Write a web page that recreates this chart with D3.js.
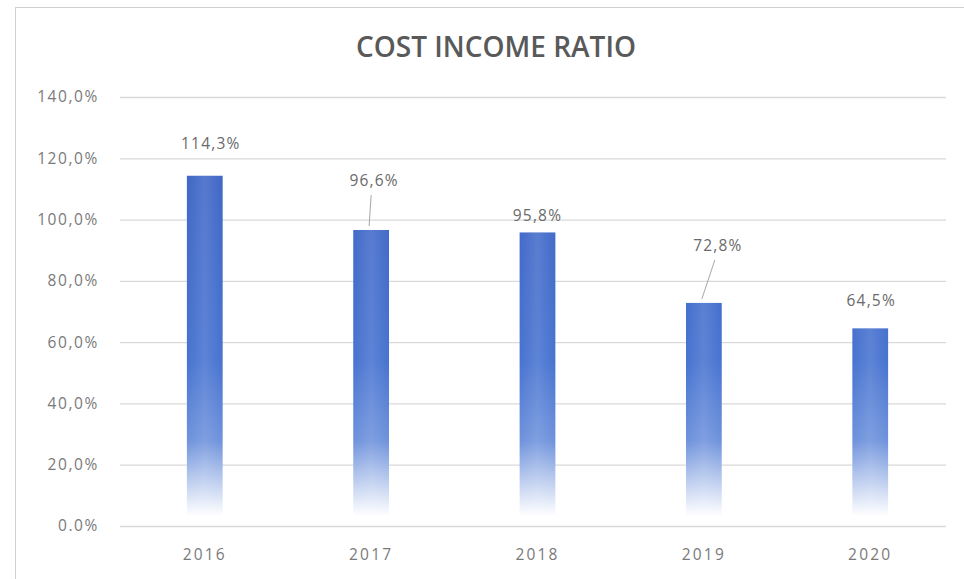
<!DOCTYPE html>
<html><head><meta charset="utf-8">
<script src="https://cdn.jsdelivr.net/npm/d3@7"></script>
<style>body{margin:0;background:#fff}svg{display:block}</style>
</head><body>
<script>
const years = ["2016","2017","2018","2019","2020"];
const ratios = [114.3, 96.6, 95.8, 72.8, 64.5];
const yTicks = [0,20,40,60,80,100,120,140];
const title = "COST INCOME RATIO";

const W=964,H=579;
const svg=d3.select("body").append("svg").attr("width",W).attr("height",H);
svg.append("rect").attr("width",W).attr("height",H).attr("fill","#fff");
svg.append("rect").attr("x",15.5).attr("y",7.5).attr("width",W).attr("height",H)
  .attr("fill","#fff").attr("stroke","#d0d0d0");

const m={left:120,right:946,top:97,bottom:526};
const x=d3.scaleBand().domain(years).range([122,953]).paddingInner(0.785).paddingOuter(0.39);
const y=d3.scaleLinear().domain([0,140]).range([m.bottom,m.top]);

const fmt=v=>v===0?"0.0%":d3.format(".1f")(v).replace(".",",")+"%";
const FONT="Open Sans, sans-serif";

const defs=svg.append("defs");
const g=defs.append("linearGradient").attr("id","bg").attr("gradientUnits","userSpaceOnUse")
  .attr("x1",0).attr("y1",y(140)).attr("x2",0).attr("y2",y(0)-10);
g.append("stop").attr("offset","0%").attr("stop-color","#3d62c2");
g.append("stop").attr("offset","63%").attr("stop-color","#4773d0");
g.append("stop").attr("offset","82%").attr("stop-color","#6e92dc");
g.append("stop").attr("offset","100%").attr("stop-color","#ffffff");
const gh=defs.append("linearGradient").attr("id","hl").attr("x1",0).attr("x2",1).attr("y1",0).attr("y2",0);
gh.append("stop").attr("offset","0%").attr("stop-color","#fff").attr("stop-opacity",0);
gh.append("stop").attr("offset","50%").attr("stop-color","#fff").attr("stop-opacity",0.12);
gh.append("stop").attr("offset","100%").attr("stop-color","#fff").attr("stop-opacity",0);

svg.append("g").selectAll("line").data(yTicks).join("line")
  .attr("x1",m.left).attr("x2",m.right).attr("y1",d=>y(d)+0.5).attr("y2",d=>y(d)+0.5)
  .attr("stroke","#d9d9d9").attr("stroke-width",1.3);

const yAxis=svg.append("g").attr("transform",`translate(${m.left-18},0)`)
  .call(d3.axisLeft(y).tickValues(yTicks).tickFormat(fmt).tickSize(0));
yAxis.select(".domain").remove();
yAxis.selectAll("text").attr("font-family",FONT).attr("font-size",15.5)
  .attr("letter-spacing",1.6).attr("fill","#7a7a7a");

const xAxis=svg.append("g").attr("transform",`translate(0,${m.bottom+20})`)
  .call(d3.axisBottom(x).tickSize(0));
xAxis.select(".domain").remove();
xAxis.selectAll("text").attr("font-family",FONT).attr("font-size",15.5)
  .attr("letter-spacing",2.2).attr("fill","#7a7a7a");

const bars=svg.append("g");
bars.selectAll("rect.b").data(ratios).join("rect").attr("class","b")
  .attr("x",(d,i)=>x(years[i])).attr("width",x.bandwidth())
  .attr("y",d=>y(d)).attr("height",d=>y(0)-y(d)-10)
  .attr("fill","url(#bg)");
bars.selectAll("rect.h").data(ratios).join("rect").attr("class","h")
  .attr("x",(d,i)=>x(years[i])).attr("width",x.bandwidth())
  .attr("y",d=>y(d)).attr("height",d=>y(0)-y(d)-10)
  .attr("fill","url(#hl)");

// data labels were moved by hand in the reference
const labelLift=[32,49,17,57,28];
const labelShift=[6,3,0,14,1];
const lab=svg.append("g");
ratios.forEach((d,i)=>{
  const cx=x(years[i])+x.bandwidth()/2;
  const ly=y(d)-labelLift[i];
  if(labelLift[i]>40){
    lab.append("line").attr("x1",cx+labelShift[i]-3).attr("y1",ly+14)
      .attr("x2",cx-2).attr("y2",y(d)-4).attr("stroke","#a6a6a6").attr("stroke-width",1);
  }
  lab.append("text").attr("x",cx+labelShift[i]).attr("y",ly).attr("text-anchor","middle")
    .attr("dy","0.35em").attr("font-family",FONT).attr("font-size",15.5).attr("letter-spacing",1.2)
    .attr("fill","#6a6a6a").text(fmt(d));
});

svg.append("text").attr("x",496).attr("y",47).attr("dy","0.35em").attr("text-anchor","middle")
  .attr("font-family",FONT).attr("font-weight","600").attr("font-size",28)
  .attr("fill","#595959").text(title);
</script>
</body></html>
